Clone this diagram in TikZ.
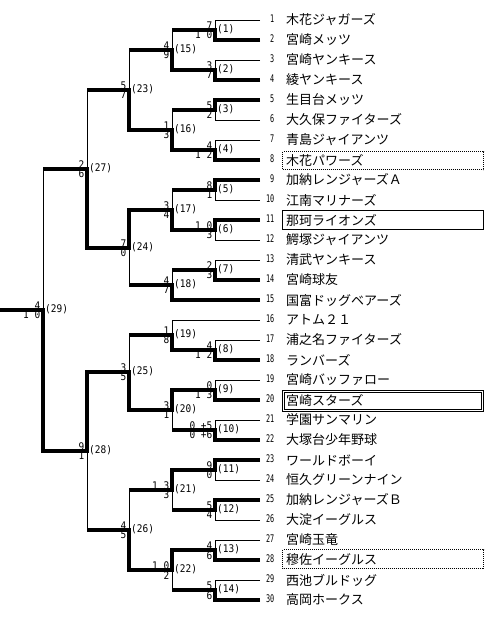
\documentclass[tikz,border=0pt]{standalone}
\usepackage{fontspec}
\newfontfamily\jpfont{Noto Sans CJK JP}
\newfontfamily\monofont{DejaVu Sans Mono}
\newcommand\narrow[2]{\scalebox{#1}[1]{#2}}
\begin{document}
\begin{tikzpicture}[x=1pt, y=-1pt, line join=miter,
    win/.style={line width=4pt},
    lose/.style={line width=1pt},
    dotbox/.style={line width=1pt, dash pattern=on 1pt off 1pt},
    score/.style={font=\monofont\fontsize{10.5}{10.5}\selectfont, inner sep=0pt},
    num/.style={font=\monofont\fontsize{10.5}{10.5}\selectfont, inner sep=0pt, anchor=east},
    team/.style={font=\jpfont\fontsize{13}{13}\selectfont, inner sep=0pt, anchor=west}]
\useasboundingbox (0,0) rectangle (500,621);
% teams
\foreach \i/\name in {1/木花ジャガーズ, 2/宮崎メッツ, 3/宮崎ヤンキース, 4/綾ヤンキース,
    5/生目台メッツ, 6/大久保ファイターズ, 7/青島ジャイアンツ, 8/木花パワーズ,
    9/加納レンジャーズＡ, 10/江南マリナーズ, 11/那珂ライオンズ, 12/鰐塚ジャイアンツ,
    13/清武ヤンキース, 14/宮崎球友, 15/国富ドッグベアーズ, 16/アトム２１,
    17/浦之名ファイターズ, 18/ランバーズ, 19/宮崎バッファロー, 20/宮崎スターズ,
    21/学園サンマリン, 22/大塚台少年野球, 23/ワールドボーイ, 24/恒久グリーンナイン,
    25/加納レンジャーズＢ, 26/大淀イーグルス, 27/宮崎玉竜, 28/穆佐イーグルス,
    29/西池ブルドッグ, 30/高岡ホークス} {
  \coordinate (t\i) at (260,20*\i);
  \node[num] (no\i) at (274.5,20*\i-1) {\narrow{0.65}{\i}};
  \node[team] (name\i) at (286,20*\i) {\name};
}
% matches: number/x/y/upper score/lower score
\foreach \m/\x/\y/\a/\b in {1/215/30/7/1 0, 2/215/70/3/7, 3/215/110/5/2, 4/215/150/4/1 2,
    5/215/190/8/1, 6/215/230/1 0/3, 7/215/270/2/3, 8/215/350/4/1 2, 9/215/390/0/1 3,
    10/215/430/0 +5/0 +6, 11/215/470/9/0, 12/215/510/5/4, 13/215/550/4/6, 14/215/590/5/6,
    15/172/50/4/9, 16/172/130/1/3, 17/172/210/3/4, 18/172/285/4/7, 19/172/335/1/8,
    20/172/410/3/1, 21/172/490/1 3/3, 22/172/570/1 0/2,
    23/129/90/5/7, 24/129/248/7/0, 25/129/372/3/5, 26/129/530/4/5,
    27/87/169/2/6, 28/87/451/9/1, 29/43/310/4/1 0} {
  \coordinate (m\m) at (\x,\y);
  \node[score, anchor=base east] (up\m) at (\x-2.5,\y-1) {\narrow{0.9}{\a}};
  \node[score, anchor=north east] (dn\m) at (\x-2.5,\y+1) {\narrow{0.9}{\b}};
  \node[score, anchor=west] (lab\m) at (\x+2,\y-0.5) {\narrow{0.9}{(\m)}};
}
\coordinate (champ) at (0,310);
% thin lines
\foreach \t/\m in {1/1, 2/1, 3/2, 4/2, 5/3, 6/3, 7/4, 8/4, 9/5, 10/5, 11/6, 12/6, 13/7, 14/7,
    15/18, 16/19, 17/8, 18/8, 19/9, 20/9, 21/10, 22/10, 23/11, 24/11, 25/12, 26/12,
    27/13, 28/13, 29/14, 30/14}
  \draw[lose] (t\t) -| (m\m);
\foreach \c/\p in {1/15, 2/15, 3/16, 4/16, 5/17, 6/17, 7/18, 8/19, 9/20, 10/20, 11/21, 12/21,
    13/22, 14/22, 15/23, 16/23, 17/24, 18/24, 19/25, 20/25, 21/26, 22/26,
    23/27, 24/27, 25/28, 26/28, 27/29, 28/29}
  \draw[lose] (m\c) -| (m\p);
% winners
\draw[win] (t2) -| (m1) -- (m1 -| m15);
\draw[win] (t4) -| (m2) -| (m15) -- (m15 -| m23);
\draw[win] (t5) -| (m3) -- (m3 -| m16);
\draw[win] (t8) -| (m4) -| (m16) -| (m23) -- (m23 -| m27);
\draw[win] (t9) -| (m5) -- (m5 -| m17);
\draw[win] (t11) -| (m6) -| (m17) -| (m24) -| (m27) -- (m27 -| m29);
\draw[win] (t14) -| (m7) -- (m7 -| m18);
\draw[win] (t15) -| (m18) -- (m18 -| m24);
\draw[win] (t18) -| (m8) -| (m19) -- (m19 -| m25);
\draw[win] (t20) -| (m9) -| (m20) -| (m25) -| (m28) -| (m29) -- (champ);
\draw[win] (t22) -| (m10) -- (m10 -| m20);
\draw[win] (t23) -| (m11) -| (m21) -- (m21 -| m26);
\draw[win] (t25) -| (m12) -- (m12 -| m21);
\draw[win] (t28) -| (m13) -| (m22) -| (m26) -- (m26 -| m28);
\draw[win] (t30) -| (m14) -- (m14 -| m22);
% boxes
\draw[dotbox] (282.5,151.5) rectangle (483.5,169.5);
\draw[lose] (282.5,210.5) rectangle (483.5,229.5);
\draw[lose] (282.5,390.5) rectangle (483.5,411.5);
\draw[lose] (284.5,392.5) rectangle (481.5,409.5);
\draw[dotbox] (282.5,549.5) rectangle (483.5,568.5);
\end{tikzpicture}
\end{document}
